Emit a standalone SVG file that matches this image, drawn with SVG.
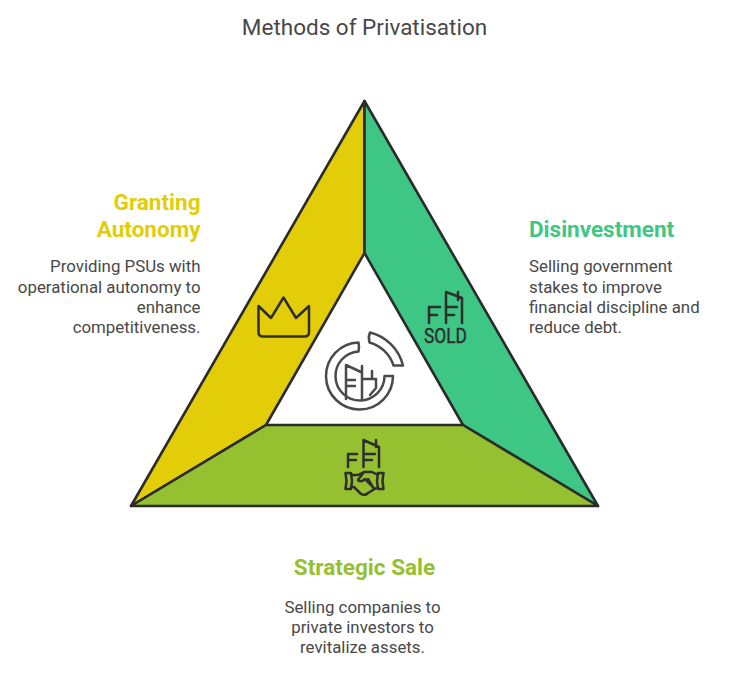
<svg xmlns="http://www.w3.org/2000/svg" width="729" height="675" viewBox="0 0 729 675">
<style>
text{font-family:Roboto,"Liberation Sans",sans-serif}
.title{font-size:22.500px;fill:#484848}
.h{font-size:22.500px;font-weight:700}
.b{font-size:16.850px;fill:#484848}
.seg{stroke:#2b2b2b;stroke-width:2.600;stroke-linejoin:round}
.ic{fill:none;stroke:#2e2e2e;stroke-width:2.500;stroke-linecap:round;stroke-linejoin:round}
.ic2{fill:none;stroke:#4a4a4a;stroke-width:2.500;stroke-linecap:round;stroke-linejoin:round}
</style>
<rect width="729" height="675" fill="#fff"/>
<text class="title" x="364.500" y="35" text-anchor="middle">Methods of Privatisation</text>
<g id="granting-autonomy">
<path class="seg" fill="#e2cd08" d="M364.500 101V253L266 425L131 506Z"/>
<path class="ic" d="M258.500 306L271 318L283.500 297.500L296 318L309 306V332Q309 336.500 304.500 336.500H263Q258.500 336.500 258.500 332Z"/>
<text class="h" fill="#e2cd08" text-anchor="end"><tspan x="200.500" y="210">Granting</tspan><tspan x="200.500" y="237">Autonomy</tspan></text>
<text class="b" text-anchor="end"><tspan x="200.500" y="272">Providing PSUs with</tspan><tspan x="200.500" y="293">operational autonomy to</tspan><tspan x="200.500" y="313">enhance</tspan><tspan x="200.500" y="333">competitiveness.</tspan></text>
</g>
<g id="disinvestment">
<path class="seg" fill="#3ec684" d="M364.500 101L598 506L463 425L364.500 253Z"/>
<path class="ic" d="M429 323V307H440M429 315H437M446 323V292L462 298V323M446 307H457M446 315H454M458 292V300"/>
<text x="445.500" y="343" font-size="20" fill="#2e2e2e" stroke="#2e2e2e" stroke-width="0.400" text-anchor="middle" textLength="43" lengthAdjust="spacingAndGlyphs">SOLD</text>
<text class="h" fill="#3ec684" x="529" y="237">Disinvestment</text>
<text class="b"><tspan x="529" y="272">Selling government</tspan><tspan x="529" y="293">stakes to improve</tspan><tspan x="529" y="313">financial discipline and</tspan><tspan x="529" y="333">reduce debt.</tspan></text>
</g>
<g id="strategic-sale">
<path class="seg" fill="#95c02f" d="M131 506L266 425H463L598 506Z"/>
<path class="ic" d="M348 467V454H357M348 460H356M363.500 467V440L379 447V467M363.500 454H375M363.500 460H372M376 440V447"/>
<path class="ic" d="M345.500 473H351L352 481L351 489H345.500L346.500 481ZM378 473H383.500L382.500 481L383.500 489H378L377 481ZM351 475H358L364 472H372L378 475M351 487H354L361 494Q365 496 368 493L378 487M364 472L358 480Q361 483 365 479L372 486M368 479L374 489"/>
<text class="h" fill="#95c02f" x="364.500" y="575" text-anchor="middle">Strategic Sale</text>
<text class="b" text-anchor="middle"><tspan x="362.500" y="613">Selling companies to</tspan><tspan x="362.500" y="633">private investors to</tspan><tspan x="362.500" y="653">revitalize assets.</tspan></text>
</g>
<g id="center-icon">
<path class="ic2" d="M358.500 342.500A33.500 33.500 0 1 0 393 376H384.500A24.500 24.500 0 1 1 358.500 351.500Q359.500 347 358.500 342.500Z"/>
<path class="ic2" d="M370 332.500A45 45 0 0 1 403 365.500H393.500A35 35 0 0 0 369.500 342.500Q368 337 370 332.500Z"/>
<path class="ic2" d="M346 399V365L362 372.500V366M362 372.500V400M346 380H355M346 386H355M362 379H376V388L370 395M372 379V371"/>
</g>
<g id="connectors"></g>
</svg>
